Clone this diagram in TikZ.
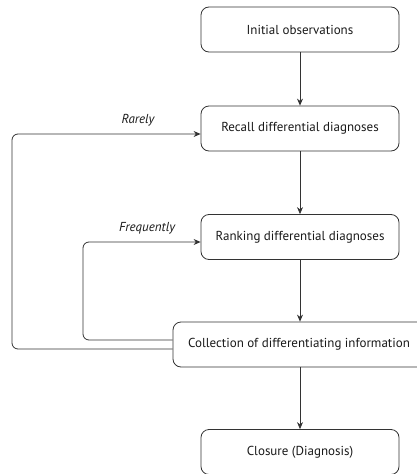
\documentclass[tikz,border=0pt]{standalone}
\usepackage{fontspec}
\setmainfont{PT Sans}
\usetikzlibrary{arrows.meta}
\begin{document}
\begin{tikzpicture}[x=1pt,y=-1pt,
  stepbox/.style={draw=black!80, line width=0.8pt, rounded corners=8pt,
    minimum width=198pt, minimum height=45pt, inner sep=0pt,
    font=\fontsize{13}{15}\selectfont, text=black!90},
  flow/.style={draw=black!80, line width=0.8pt,
    -{Stealth[length=7pt,width=6pt]}},
  loop/.style={flow, rounded corners=6pt},
  lbl/.style={font=\itshape\fontsize{13}{15}\selectfont, text=black!90}]
\useasboundingbox (0,0) rectangle (417,474);
\clip (0,0) rectangle (417,474);

% process steps
\node[stepbox] (init)    at (300,29.5)  {Initial observations};
\node[stepbox] (recall)  at (300,128.5) {Recall differential diagnoses};
\node[stepbox] (rank)    at (300,237)   {Ranking differential diagnoses};
\node[stepbox, minimum width=252pt] (collect) at (299,344.5)
  {Collection of differentiating information};
\node[stepbox] (close)   at (300,452)   {Closure (Diagnosis)};

% main flow
\draw[flow] (init) -- (recall);
\draw[flow] (recall) -- (rank);
\draw[flow] (rank) -- (collect.north -| rank.south);
\draw[flow] (collect.south -| close.north) -- (close);

% feedback loops
\coordinate (fx) at (83,290);
\coordinate (rx) at (12,240);
\draw[loop] ([yshift=4.5pt]collect.west) -| (fx) |- ([yshift=-5pt]rank.west);
\draw[loop] ([yshift=-4.5pt]collect.west) -| (rx) |- ([yshift=-5.5pt]recall.west);

\node[lbl] (rarely) at (138,120) {Rarely};
\node[lbl] (freq)   at (147,228) {Frequently};
\end{tikzpicture}
\end{document}
